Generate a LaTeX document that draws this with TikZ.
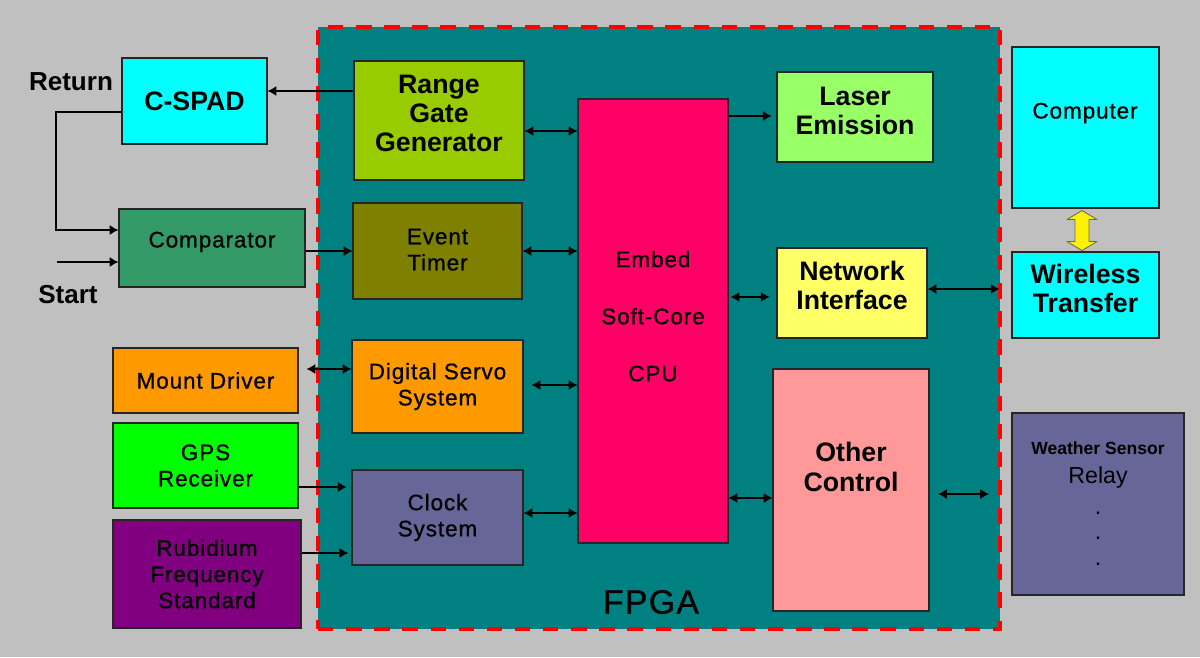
\documentclass[tikz,border=0pt]{standalone}
\usepackage{fontspec}
\setmainfont{Liberation Sans}
\newfontfamily\trackfont{Liberation Sans}[LetterSpace=4, FakeBold=0.8]
\usetikzlibrary{arrows.meta,positioning,calc}
\definecolor{bggray}{RGB}{192,192,192}
\definecolor{fpgateal}{RGB}{0,128,128}
\definecolor{fpgared}{RGB}{255,0,0}
\definecolor{spadcyan}{RGB}{0,255,255}
\definecolor{compgreen}{RGB}{51,153,102}
\definecolor{rangelime}{RGB}{153,204,0}
\definecolor{timerolive}{RGB}{128,128,0}
\definecolor{cpupink}{RGB}{255,0,102}
\definecolor{laserlime}{RGB}{153,255,102}
\definecolor{netyellow}{RGB}{255,255,102}
\definecolor{othersalmon}{RGB}{255,153,153}
\definecolor{servoorange}{RGB}{255,153,0}
\definecolor{gpsgreen}{RGB}{0,255,0}
\definecolor{rbpurple}{RGB}{128,0,128}
\definecolor{clockslate}{RGB}{102,102,153}

\tikzset{
    blk/.style={draw=black!85, line width=0.75pt, inner sep=0pt, align=center},
    sz/.style 2 args={minimum width=#1*0.025cm, minimum height=#2*0.025cm},
    raisetxt/.style={text depth=#1},
    bigtxt/.style={font=\bfseries\fontsize{19}{20.8}\selectfont},
    smalltxt/.style={font=\trackfont\fontsize{16}{18.6}\selectfont},
    arr/.style={-{Latex[length=2.2mm,width=2.5mm]}, line width=0.9pt},
    darr/.style={{Latex[length=2.2mm,width=2.5mm]}-{Latex[length=2.2mm,width=2.5mm]}, line width=0.9pt},
    yarrow/.style={draw=black!60, fill=yellow, line width=0.6pt, line join=round},
}

\begin{document}
\begin{tikzpicture}[x=0.025cm, y=-0.025cm]
    \fill[bggray] (0,0) rectangle (1200,657);
    \useasboundingbox (0,0) rectangle (1200,657);

    % FPGA area
    \node[draw=fpgared, dash pattern=on 11pt off 9pt, line width=2.2pt, fill=fpgateal, inner sep=0pt, sz={682}{602}] (fpga) at (659,328) {};
    \node[font=\trackfont\fontsize{24}{28}\selectfont] (fpgalbl) at (651,602) {FPGA};

    % blocks inside the FPGA
    \node[blk, bigtxt, raisetxt=10pt, fill=rangelime, sz={170}{119}] (range) at (439,120.5) {Range\\Gate\\Generator};
    \node[blk, smalltxt, raisetxt=2pt, fill=timerolive, sz={169}{96}] (timer) at (437.5,251) {Event\\Timer};
    \node[blk, smalltxt, fill=servoorange, sz={171}{93}] (servo) at (437.5,386.5) {Digital Servo\\System};
    \node[blk, smalltxt, fill=clockslate, sz={171}{95}] (clock) at (437.5,517.5) {Clock\\System};
    \node[blk, smalltxt, raisetxt=7pt, fill=cpupink, sz={150}{444}] (cpu) at (653,321) {Embed\\[22pt]Soft-Core\\[22pt]CPU};
    \node[blk, bigtxt, raisetxt=9pt, fill=laserlime, sz={156}{90}] (laser) at (855,117) {Laser\\Emission};
    \node[blk, bigtxt, raisetxt=11pt, fill=netyellow, sz={150}{90}] (net) at (852,293) {Network\\Interface};
    \node[blk, fill=othersalmon, sz={156}{242}] (other) at (851,490) {};
    \node[bigtxt, align=center] (otherlbl) at (851,467) {Other\\Control};

    % blocks on the left
    \node[blk, bigtxt, fill=spadcyan, sz={145}{86}] (cspad) at (194.5,101) {C-SPAD};
    \node[blk, smalltxt, raisetxt=12pt, fill=compgreen, sz={186}{78}] (comp) at (212,248) {Comparator};
    \node[blk, smalltxt, fill=servoorange, sz={185}{65}] (mount) at (205.5,380.5) {Mount Driver};
    \node[blk, smalltxt, fill=gpsgreen, sz={185}{85}] (gps) at (205.5,465.5) {GPS\\Receiver};
    \node[blk, smalltxt, fill=rbpurple, sz={188}{108}] (rb) at (207,574) {Rubidium\\Frequency\\Standard};
    \node[font=\bfseries\fontsize{18.5}{22}\selectfont] (ret) at (71,82) {Return};
    \node[font=\bfseries\fontsize{18.5}{22}\selectfont] (start) at (68,295) {Start};

    % blocks on the right
    \node[blk, fill=spadcyan, sz={147}{161}] (computer) at (1085.5,127.5) {};
    \node[smalltxt] (computerlbl) at (1085,113) {Computer};
    \node[blk, bigtxt, raisetxt=9pt, fill=spadcyan, sz={147}{86}] (wireless) at (1085.5,295) {Wireless\\Transfer};
    \node[blk, fill=clockslate, sz={172}{182}] (weather) at (1098,504) {};
    \node[anchor=north, inner sep=0pt, align=center, font=\fontsize{16.5}{18}\selectfont] (weatherlbl) at (1098,441)
        {{\bfseries\fontsize{12.5}{15}\selectfont Weather Sensor}\\[3pt]Relay\\[4pt].\\.\\.};

    \coordinate (bend) at (56,230);
    \coordinate (startin) at (57,262);
    \coordinate (wxout) at (938,494);
    \coordinate (wxin) at (989,494);

    % connectors
    \draw[arr] (range.west |- 0,91) -- (cspad.east |- 0,91);
    \draw[arr] (cspad.west |- 0,112) -| (bend) -- (comp.west |- bend);
    \draw[arr] (startin) -- (comp.west |- startin);
    \draw[arr] (comp.east |- 0,251) -- (timer.west |- 0,251);
    \draw[darr] (range.east |- 0,131) -- (cpu.west |- 0,131);
    \draw[darr] (timer.east |- 0,251) -- (cpu.west |- 0,251);
    \draw[darr, shorten <=0.2cm] (servo.east |- 0,385) -- (cpu.west |- 0,385);
    \draw[darr] (clock.east |- 0,513) -- (cpu.west |- 0,513);
    \draw[darr, shorten <=0.2cm] (mount.east |- 0,369) -- (servo.west |- 0,369);
    \draw[arr, shorten >=0.12cm] (gps.east |- 0,487) -- (clock.west |- 0,487);
    \draw[arr, shorten >=0.08cm] (rb.east |- 0,553) -- (clock.west |- 0,553);
    \draw[arr, shorten >=0.12cm] (cpu.east |- 0,116) -- (laser.west |- 0,116);
    \draw[darr, shorten <=0.05cm, shorten >=0.17cm] (cpu.east |- 0,297) -- (net.west |- 0,297);
    \draw[darr, shorten >=0.05cm] (net.east |- 0,289) -- (fpga.east |- 0,289);
    \draw[darr] (cpu.east |- 0,498) -- (other.west |- 0,498);
    \draw[darr] (wxout) -- (wxin);
    \draw[yarrow] ($(computer.south)+(-3.5,2)$) -- ++(15,9) -- ++(-8,0) -- ++(0,22) -- ++(8,0) -- ++(-15,9)
        -- ++(-15,-9) -- ++(8,0) -- ++(0,-22) -- ++(-8,0) -- cycle;
\end{tikzpicture}
\end{document}
